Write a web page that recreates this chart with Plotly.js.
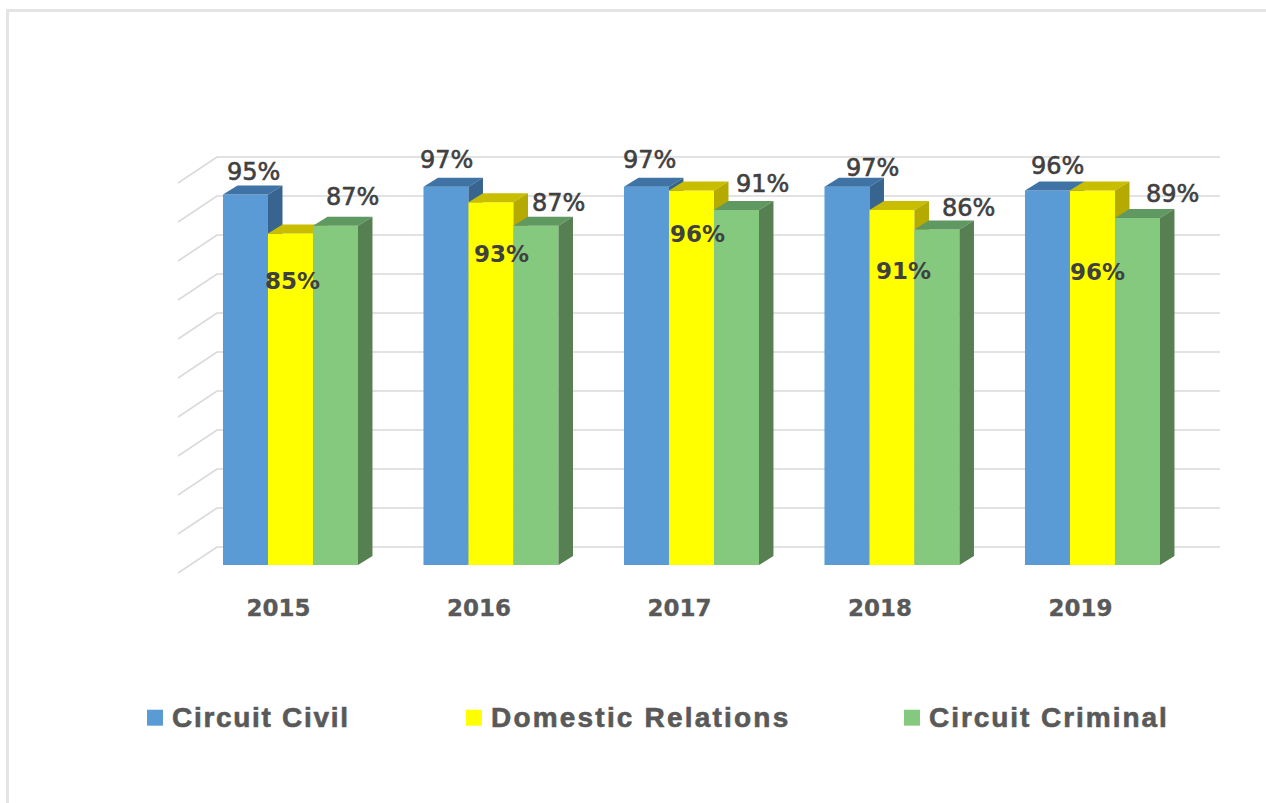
<!DOCTYPE html>
<html>
<head>
<meta charset="utf-8">
<script src="https://cdn.plot.ly/plotly-3.0.1.min.js"></script>
<style>
html,body{margin:0;padding:0;background:#fff;overflow:hidden}
#frame{position:absolute;left:6px;top:9px;right:0;bottom:0;border-left:3px solid #e4e4e4;border-top:3px solid #e4e4e4}
#chart{position:absolute;left:0;top:0;width:1266px;height:803px}
</style>
</head>
<body>
<div id="frame"></div>
<div id="chart"></div>
<script>
// ---- data ----
const years = ['2015','2016','2017','2018','2019'];
const circuitCivil = [95,97,97,97,96];
const domesticRelations = [85,93,96,91,96];
const circuitCriminal = [87,87,91,86,89];
const seriesNames = ['Circuit Civil','Domestic Relations','Circuit Criminal'];
const gridValues = [0,10,20,30,40,50,60,70,80,90,100];

// ---- styles and geometry ----
const faceColors = [
  {front:'#5b9bd5', top:'#3f73a5', side:'#38658f'},
  {front:'#ffff00', top:'#c9bd00', side:'#b5aa00'},
  {front:'#85c97f', top:'#5f9860', side:'#567f52'}
];
const xRange = [-0.561, 4.636];
const yRange = [-3.846, 111.54];
const barW = 45/200.5;
const depthX = 14.5/200.5;
const depthY = 9/3.9;
const wallLeftX = (217-290.5)/200.5;
const wallLift = 18/3.9;
const floorDrop = 8/3.9;
const tickShift = -0.06;
const labelNudges = [
  [[8.5,22.5],[1,27],[3.5,27],[26,19],[10.5,25]],
  [[2.5,-47.5],[11,-52],[6.5,-43],[12,-61],[5.5,-81]],
  [[17.5,29],[23,23],[26.5,26],[32,22],[35.5,24]]
];
const labelBold = [false,true,false];
const legendSpacing = ['1.7px','2.2px','1.95px'];
const allValues = [circuitCivil, domesticRelations, circuitCriminal];

const traces = [];
// back wall and left wall grid, on the base axes so every bar paints over it
const gx = [], gy = [];
gridValues.forEach(v => {
  gx.push(xRange[0], wallLeftX, xRange[1], null);
  gy.push(v-floorDrop, v+wallLift, v+wallLift, null);
});
traces.push({type:'scatter',mode:'lines',x:gx,y:gy,xaxis:'x',yaxis:'y',
  line:{color:'#d9d9d9',width:1.6},hoverinfo:'skip',showlegend:false,connectgaps:false});

allValues.forEach((vals,s) => {
  const ax = {x:'x'+(s+2),y:'y'+(s+2)};
  const xc = years.map((_,i)=> i+(s-1)*barW);
  traces.push({type:'bar',x:xc,y:vals,width:barW,xaxis:ax.x,yaxis:ax.y,name:seriesNames[s],
    legend: s===0 ? 'legend' : 'legend'+(s+1),
    marker:{color:faceColors[s].front,line:{width:0}},hovertemplate:'%{y}%<extra>'+seriesNames[s]+'</extra>'});
  const tx=[],ty=[],sx=[],sy=[];
  vals.forEach((v,i)=>{
    const l=xc[i]-barW/2, r=xc[i]+barW/2;
    tx.push(l,l+depthX,r+depthX,r,l,null);
    ty.push(v,v+depthY,v+depthY,v,v,null);
    sx.push(r,r+depthX,r+depthX,r,r,null);
    sy.push(0,depthY,v+depthY,v,0,null);
  });
  [[tx,ty,faceColors[s].top],[sx,sy,faceColors[s].side]].forEach(f=>{
    traces.push({type:'scatter',mode:'lines',x:f[0],y:f[1],xaxis:ax.x,yaxis:ax.y,fill:'toself',
      fillcolor:f[2],line:{width:0,color:f[2]},hoverinfo:'skip',showlegend:false});
  });
});

const annotations = [];
allValues.forEach((vals,s)=>{
  vals.forEach((v,i)=>{
    annotations.push({xref:'x',yref:'y',x:i+(s-1)*barW,y:v,text:v+'%',showarrow:false,
      xanchor:'center',yanchor:'middle',xshift:labelNudges[s][i][0],yshift:labelNudges[s][i][1],
      font:{family:'DejaVu Sans',size:labelBold[s]?23:24,color:'#404040',weight:labelBold[s]?700:400}});
  });
});

const hiddenX = {range:xRange,overlaying:'x',visible:false,fixedrange:true};
const hiddenY = {range:yRange,overlaying:'y',visible:false,fixedrange:true};
const legendBase = {orientation:'h',xref:'container',yref:'container',xanchor:'left',yanchor:'middle',
  bgcolor:'rgba(0,0,0,0)',itemclick:false,itemdoubleclick:false,entrywidthmode:'pixels',
  font:{family:'Liberation Sans',size:28,color:'#595959',weight:700}};

const layout = {
  width:1266,height:803,
  margin:{l:178,r:46,t:130,b:223,pad:0},
  paper_bgcolor:'rgba(0,0,0,0)',plot_bgcolor:'rgba(0,0,0,0)',
  showlegend:true,
  xaxis:{range:xRange,tickmode:'array',tickvals:years.map((_,i)=>i+tickShift),ticktext:years,
    showgrid:false,zeroline:false,showline:false,ticks:'',ticklabelstandoff:12,fixedrange:true,
    tickfont:{family:'DejaVu Sans',size:23,color:'#595959',weight:700}},
  yaxis:{range:yRange,visible:false,fixedrange:true},
  xaxis2:hiddenX,yaxis2:hiddenY,xaxis3:hiddenX,yaxis3:hiddenY,xaxis4:hiddenX,yaxis4:hiddenY,
  legend:Object.assign({},legendBase,{x:132/1266,y:1-716/803,entrywidth:240}),
  legend2:Object.assign({},legendBase,{x:451/1266,y:1-716/803,entrywidth:340}),
  legend3:Object.assign({},legendBase,{x:889/1266,y:1-716/803,entrywidth:300}),
  annotations:annotations
};

Plotly.newPlot('chart',traces,layout,{displayModeBar:false,responsive:false}).then(()=>{
  document.querySelectorAll('.legendbar path, .legendpoints path').forEach(p=>{
    p.setAttribute('transform','translate(23,2) scale(1.33)');
  });
  document.querySelectorAll('#chart svg text').forEach(t=>{
    const idx = seriesNames.indexOf(t.textContent);
    if(idx>=0){
      t.style.letterSpacing = legendSpacing[idx];
      t.style.stroke='#595959'; t.style.strokeWidth='0.6px';
    }
    if(years.includes(t.textContent)){
      t.style.stroke='#595959'; t.style.strokeWidth='0.3px';
    }
    if(/%$/.test(t.textContent) && t.style.fontWeight!=='700'){
      t.style.stroke='#404040'; t.style.strokeWidth='0.6px';
    }
  });
});
</script>
</body>
</html>
